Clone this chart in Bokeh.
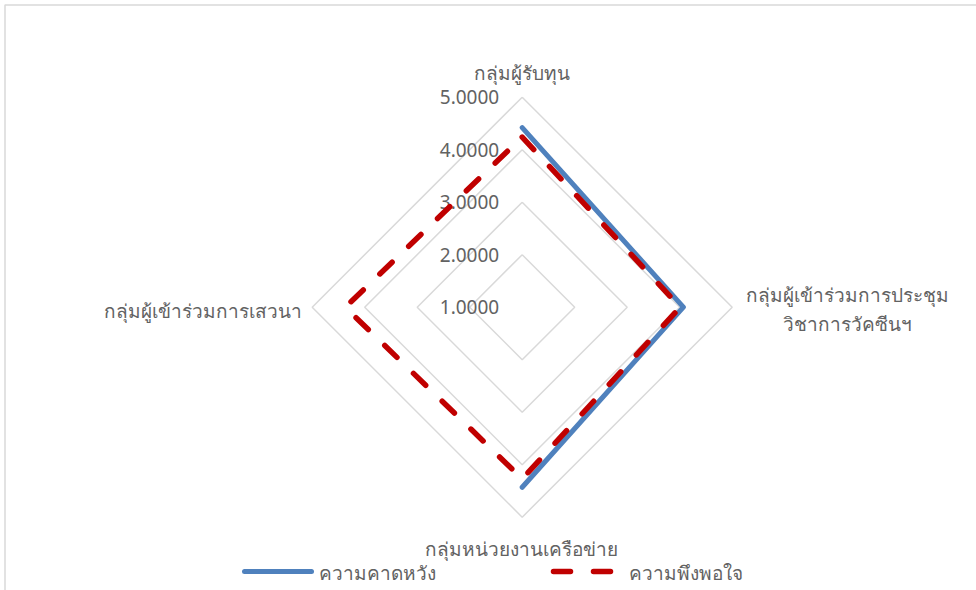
import numpy as np
from bokeh.plotting import figure
from bokeh.models import Range1d
from bokeh.core.properties import value
from bokeh.embed import file_html
from bokeh.resources import INLINE

# ---- data ----
categories = [
    "กลุ่มผู้รับทุน",
    "กลุ่มผู้เข้าร่วมการประชุม\nวิชาการวัคซีนฯ",
    "กลุ่มหน่วยงานเครือข่าย",
    "กลุ่มผู้เข้าร่วมการเสวนา",
]
expectation = [4.42, 4.07, 4.43, np.nan]   # ความคาดหวัง (no value for the last group)
satisfaction = [4.24, 4.01, 4.27, 4.37]    # ความพึงพอใจ
ticks = [1.0, 2.0, 3.0, 4.0, 5.0]
tick_labels = ["1.0000", "2.0000", "3.0000", "4.0000", "5.0000"]
series_names = ["ความคาดหวัง", "ความพึงพอใจ"]

# ---- layout ----
W, H = 976, 590
CX, CY = 521.7, 306.7          # radar centre in page pixels (from top-left)
K = 52.5                       # pixels per unit on the radial scale
R0 = ticks[0]                  # value at the centre

FONT = "Noto Sans"
TXT = "#626262"
GRID = "#D9D9D9"
BLUE = "#4F81BD"
RED = "#C00000"


def px(x):
    return (x - CX) / K


def py(y):
    return (CY - y) / K


p = figure(width=W, height=H, output_backend="svg", toolbar_location=None,
           x_range=Range1d(-CX / K, (W - CX) / K),
           y_range=Range1d(-(H - CY) / K, CY / K),
           min_border=0)
p.axis.visible = False
p.grid.visible = False
p.outline_line_color = None
p.background_fill_color = "white"

# spoke directions: top, right, bottom, left (clockwise)
angles = np.deg2rad([90, 0, -90, 180])
cosA, sinA = np.cos(angles), np.sin(angles)


def ring_xy(vals):
    r = np.asarray(vals, dtype=float) - R0
    xs = list(r * cosA) + [r[0] * cosA[0]]
    ys = list(r * sinA) + [r[0] * sinA[0]]
    return xs, ys


# chart-area border
p.line([px(4.5), px(4.5), px(W + 5)], [py(H + 5), py(4.5), py(4.5)],
       line_color=GRID, line_width=1.5)

# grid rings
for t in ticks[1:]:
    xs, ys = ring_xy([t] * 4)
    p.line(xs, ys, line_color=GRID, line_width=1.5)

# radial tick labels
p.text(x=[px(CX - 23)] * len(ticks), y=[t - R0 for t in ticks], text=tick_labels,
       text_align="right", text_baseline="middle", text_color=TXT,
       text_font=value(FONT), text_font_size="19px")

# series
xs, ys = ring_xy(expectation)
p.line(xs, ys, line_color=BLUE, line_width=5, line_cap="round", line_join="round")
xs, ys = ring_xy(satisfaction)
p.line(xs, ys, line_color=RED, line_width=5.5, line_cap="round", line_join="round",
       line_dash="17 23")

# category labels
cat_pos = [
    (CX, 72, "center"),
    (847, 309, "center"),
    (520.5, 548, "center"),
    (301.7, 310, "right"),
]
for lab, (x, y, al) in zip(categories, cat_pos):
    p.text(x=[px(x)], y=[py(y)], text=[lab], text_align=al, text_baseline="middle",
           text_color=TXT, text_font=value(FONT), text_font_size="19px",
           text_line_height=1.13)

# legend
p.line([px(244), px(311)], [py(571), py(571)], line_color=BLUE, line_width=5,
       line_cap="round")
p.text(x=[px(318)], y=[py(572)], text=[series_names[0]], text_align="left",
       text_baseline="middle", text_color=TXT, text_font=value(FONT),
       text_font_size="19px")
p.line([px(553), px(613)], [py(571), py(571)], line_color=RED, line_width=5.5,
       line_cap="round", line_dash="17 23")
p.text(x=[px(628)], y=[py(572)], text=[series_names[1]], text_align="left",
       text_baseline="middle", text_color=TXT, text_font=value(FONT),
       text_font_size="19px")

open("out.html", "w").write(file_html(p, INLINE))
